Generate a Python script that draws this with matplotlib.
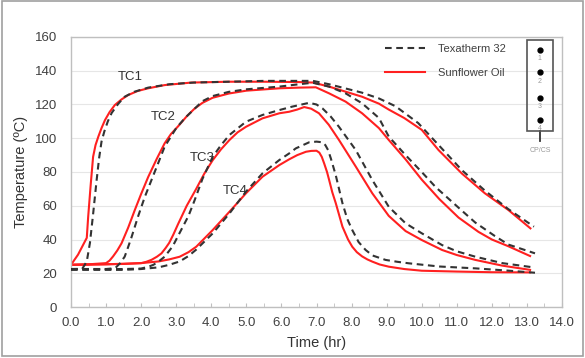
import matplotlib
matplotlib.use("Agg")
import matplotlib.pyplot as plt
from matplotlib.patches import Rectangle

plt.rcParams['font.family'] = ['Liberation Sans', 'DejaVu Sans']

# ---- data (time in hr, temperature in degC) ----
tc1_sun_t = [0, 0.2, 0.45, 0.49, 0.56, 0.63, 0.7, 0.78, 0.87, 0.97, 1.1, 1.25, 1.44, 1.63, 1.9, 2.2, 2.67,
             3.43, 4.5, 5.5, 6.5, 6.9, 7.36, 7.83, 8.3, 8.78, 9.06, 9.5, 10.0, 10.48, 11.15, 11.8, 12.47, 13.1]
tc1_sun_T = [25, 31, 41, 53.5, 72, 89, 96, 101, 106, 110.8, 115.5, 119.7, 123, 125.6, 128, 129.6, 131.5,
             133, 133.5, 133.5, 133.3, 133, 130.6, 127.6, 124.6, 120.5, 117, 112, 105, 93, 79, 67.4, 57.5, 46.6]

tc1_tex_t = [0, 0.32, 0.45, 0.54, 0.63, 0.73, 0.8, 0.87, 0.95, 1.05, 1.16, 1.35, 1.53, 1.8, 2.2, 2.8, 3.5,
             4.5, 5.5, 6.3, 6.9, 7.36, 7.83, 8.3, 8.78, 9.25, 9.9, 10.48, 11.15, 11.8, 12.47, 13.2]
tc1_tex_T = [22.5, 22.6, 27, 38, 55, 75, 88, 98, 104, 110, 115, 120.5, 124.6, 127.5, 130, 132, 133,
             133.5, 134, 134, 134, 132, 129.5, 127, 123.6, 119, 109, 96, 81, 69, 58, 47.6]

tc2_sun_t = [0, 0.5, 1.0, 1.1, 1.2, 1.32, 1.44, 1.63, 1.82, 2.0, 2.2, 2.45, 2.67, 2.85, 3.05, 3.3, 3.52,
             3.75, 4.04, 4.5, 5.0, 5.94, 6.5, 6.98, 7.36, 7.83, 8.3, 8.78, 9.06, 9.54, 10.0, 10.5, 11.05,
             11.62, 12.0, 12.47, 13.09]
tc2_sun_T = [25, 25.3, 26, 27.5, 30, 33.5, 37.7, 47, 57.5, 67, 77, 88, 97, 102.5, 107, 113, 117.5,
             121, 124, 126.5, 128.2, 129.6, 130, 130.2, 126.6, 121.7, 114.8, 106, 99, 87.5, 75.5, 64, 53,
             44.5, 40, 36, 30.2]

tc2_tex_t = [0, 1.0, 1.26, 1.4, 1.53, 1.62, 1.72, 1.91, 2.1, 2.29, 2.5, 2.67, 2.85, 3.0, 3.25, 3.5, 3.75,
             4.04, 4.5, 5.0, 5.94, 6.5, 6.89, 7.36, 7.83, 8.3, 8.78, 9.06, 9.54, 10.0, 10.4, 11.15, 11.53,
             12.09, 12.47, 13.23]
tc2_tex_T = [22.5, 22.5, 23, 26, 29.8, 35, 41, 53.5, 65, 75, 86, 95, 101, 106, 112, 117, 122,
             125, 127.5, 129, 130.6, 132, 132.9, 130.6, 126.6, 120.7, 112, 101, 90, 80, 71, 57, 50,
             42, 37, 31.8]

tc3_sun_t = [0, 1.0, 2.0, 2.15, 2.3, 2.45, 2.58, 2.7, 2.8, 2.92, 3.05, 3.3, 3.57, 3.8, 4.04, 4.28, 4.52,
             4.75, 4.99, 5.46, 5.94, 6.22, 6.45, 6.65, 6.85, 7.07, 7.35, 7.64, 8.12, 8.59, 9.06, 9.54,
             10.0, 10.58, 11.0, 11.53, 12.3, 13.09]
tc3_sun_T = [25, 25.3, 26, 26.8, 28, 29.8, 31.8, 35, 38, 43, 49, 60, 70, 79, 87, 93.5, 99,
             103.5, 106.8, 111.8, 114.8, 115.7, 117, 118.5, 117.5, 114.8, 108, 99, 83.2, 67.4, 54, 45,
             39.7, 33.8, 30.8, 27.9, 24.5, 22]

tc3_tex_t = [0, 1.5, 2.0, 2.2, 2.35, 2.5, 2.67, 2.9, 3.14, 3.35, 3.52, 3.75, 4.04, 4.28, 4.52, 4.99, 5.46,
             5.94, 6.3, 6.79, 7.0, 7.17, 7.4, 7.64, 8.12, 8.59, 9.06, 9.54, 10.0, 10.58, 11.0, 11.53,
             12.3, 13.18]
tc3_tex_T = [22.5, 22.5, 22.8, 23.8, 25, 27, 29.8, 36, 45.6, 54, 63, 76, 89, 96, 102, 109.8, 113.8,
             116.7, 118.7, 121, 120, 117.7, 113, 106.8, 93, 75.3, 59.4, 49.6, 43.7, 36.7, 33, 29.8,
             26, 23.5]

tc4_sun_t = [0, 1.5, 2.0, 2.5, 2.8, 3.1, 3.35, 3.57, 4.04, 4.52, 4.99, 5.46, 5.94, 6.22, 6.45, 6.7, 6.85,
             7.0, 7.08, 7.15, 7.22, 7.3, 7.36, 7.45, 7.55, 7.74, 7.9, 8.02, 8.15, 8.3, 8.45, 8.59, 8.8,
             9.06, 9.5, 10.0, 11.0, 12.0, 13.09]
tc4_sun_T = [25, 25.5, 26, 27, 28.2, 29.8, 32.5, 35.7, 45.6, 56.5, 67.4, 77.2, 84.1, 87.5, 90, 92, 92.5,
             92.6, 91.5, 89, 85, 80, 75.3, 68, 61.5, 47.6, 40, 35.7, 32.5, 30, 28.2, 26.9, 25.2,
             23.9, 22.5, 21.5, 21, 20.6, 20.5]

tc4_tex_t = [0, 1.5, 2.0, 2.5, 2.8, 3.1, 3.35, 3.57, 4.04, 4.52, 4.99, 5.46, 5.94, 6.22, 6.41, 6.79, 7.0,
             7.17, 7.25, 7.33, 7.41, 7.48, 7.55, 7.74, 7.88, 8.02, 8.2, 8.4, 8.6, 8.97, 9.3, 9.63, 10.5,
             11.53, 12.5, 13.23]
tc4_tex_T = [22, 22, 22.5, 23.5, 25, 27, 30.2, 34, 43.6, 55.5, 68.4, 79.2, 87.1, 91, 94, 97.6, 98,
             97.6, 96, 93, 88, 83, 78, 61.5, 52, 45.6, 38.5, 33.8, 30.5, 27.9, 26.8, 25.9, 24,
             22.9, 21.5, 20.3]

series_names = ["Texatherm 32", "Sunflower Oil"]
tc_labels = ["TC1", "TC2", "TC3", "TC4"]
tc_label_pos_t = [1.68, 2.64, 3.75, 4.69]
tc_label_pos_T = [136, 112.6, 88, 69]
x_ticks = [0, 1, 2, 3, 4, 5, 6, 7, 8, 9, 10, 11, 12, 13, 14]
y_ticks = [0, 20, 40, 60, 80, 100, 120, 140, 160]

# ---- figure ----
fig = plt.figure(figsize=(5.85, 3.58), dpi=100)
ax = fig.add_axes([71/585, 1 - 307/358, 491/585, 270/358])

red = "#ff2020"
blk = "#333333"
tex = [(tc1_tex_t, tc1_tex_T), (tc2_tex_t, tc2_tex_T), (tc3_tex_t, tc3_tex_T), (tc4_tex_t, tc4_tex_T)]
sun = [(tc1_sun_t, tc1_sun_T), (tc2_sun_t, tc2_sun_T), (tc3_sun_t, tc3_sun_T), (tc4_sun_t, tc4_sun_T)]
for i, (t, T) in enumerate(tex):
    ax.plot(t, T, color=blk, lw=1.5, dashes=(3.2, 2.2), label=series_names[0] if i == 0 else None,
            zorder=3, solid_joinstyle="round", dash_joinstyle="round")
for i, (t, T) in enumerate(sun):
    ax.plot(t, T, color=red, lw=1.5, label=series_names[1] if i == 0 else None, zorder=2,
            solid_joinstyle="round")

for lab, t, T in zip(tc_labels, tc_label_pos_t, tc_label_pos_T):
    ax.text(t, T, lab, fontsize=9.5, color="#333333", ha="center", va="center")

ax.set_xlim(0, 14)
ax.set_ylim(0, 160)
ax.set_xticks(x_ticks)
ax.set_xticklabels([f"{v:.1f}" for v in x_ticks])
ax.set_xticks([v + 0.5 for v in x_ticks[:-1]], minor=True)
ax.set_yticks(y_ticks)
ax.tick_params(axis="x", which="both", direction="in", length=3, color="#bfbfbf", pad=7,
               labelsize=9.5, labelcolor="#404040")
ax.tick_params(axis="y", length=0, pad=10, labelsize=9.5, labelcolor="#404040")
ax.grid(axis="y", color="#e6e6e6", lw=0.8)
ax.set_axisbelow(True)
for s in ax.spines.values():
    s.set_color("#bfbfbf")
    s.set_linewidth(1.0)

ax.set_xlabel("Time (hr)", fontsize=10.5, color="#333333", labelpad=5)
ax.set_ylabel("Temperature (ºC)", fontsize=10.5, color="#333333", labelpad=5)

leg = ax.legend(loc="upper left", bbox_to_anchor=(0.62, 1.01), frameon=False, fontsize=8,
                handlelength=3.6, labelspacing=1.2, handletextpad=1.1)
for txt in leg.get_texts():
    txt.set_color("#404040")

# inset thermocouple sketch
ax.add_patch(Rectangle((0.929, 0.652), 0.053, 0.337, transform=ax.transAxes, fill=False,
                       edgecolor="#555555", lw=1.2, zorder=5, clip_on=False))
for k, yy in enumerate([0.952, 0.870, 0.774, 0.693]):
    ax.plot([0.955], [yy], "o", color="black", ms=3.5, transform=ax.transAxes, zorder=6)
    ax.text(0.955, yy - 0.033, str(k + 1), fontsize=5, color="#999999", ha="center", va="center",
            transform=ax.transAxes, zorder=6)
ax.plot([0.955, 0.955], [0.652, 0.615], color="#333333", lw=1.3, transform=ax.transAxes, clip_on=False)
ax.text(0.955, 0.578, "CP/CS", fontsize=5, color="#999999", ha="center", va="center", transform=ax.transAxes)

fig.patches.append(Rectangle((0.004, 0.006), 0.992, 0.99, transform=fig.transFigure, fill=False,
                             edgecolor="#a0a0a0", lw=1.2))

fig.savefig("out.png", dpi=100)
